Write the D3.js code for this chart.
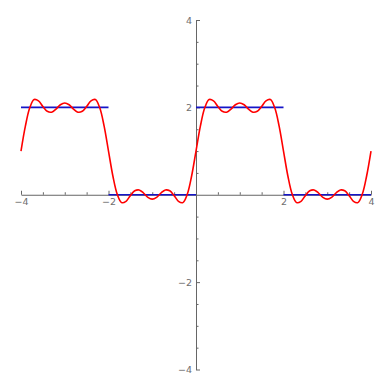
<!DOCTYPE html>
<html>
<head>
<meta charset="utf-8">
<script src="https://cdn.jsdelivr.net/npm/d3@7"></script>
<style>
  body { margin: 0; background: #fff; }
  .tick text { font-family: "DejaVu Sans", sans-serif; font-size: 9.5px; fill: #6e6e6e; }
</style>
</head>
<body>
<svg id="chart" width="389" height="389"></svg>
<script>
// sample positions and the red partial-sum curve
const xs = [-4.0,-3.9,-3.8,-3.7,-3.6,-3.5,-3.4,-3.3,-3.2,-3.1,-3.0,-2.9,-2.8,-2.7,-2.6,-2.5,-2.4,-2.3,-2.2,-2.1,
            -2.0,-1.9,-1.8,-1.7,-1.6,-1.5,-1.4,-1.3,-1.2,-1.1,-1.0,-0.9,-0.8,-0.7,-0.6,-0.5,-0.4,-0.3,-0.2,-0.1,
            0.0,0.1,0.2,0.3,0.4,0.5,0.6,0.7,0.8,0.9,1.0,1.1,1.2,1.3,1.4,1.5,1.6,1.7,1.8,1.9,
            2.0,2.1,2.2,2.3,2.4,2.5,2.6,2.7,2.8,2.9,3.0,3.1,3.2,3.3,3.4,3.5,3.6,3.7,3.8,3.9,4.0];
const ys = [1.00,1.57,1.99,2.18,2.15,2.02,1.91,1.89,1.96,2.06,2.10,2.06,1.96,1.89,1.91,2.02,2.15,2.18,1.99,1.57,
            1.00,0.43,0.01,-0.18,-0.15,-0.02,0.09,0.11,0.04,-0.06,-0.10,-0.06,0.04,0.11,0.09,-0.02,-0.15,-0.18,0.01,0.43,
            1.00,1.57,1.99,2.18,2.15,2.02,1.91,1.89,1.96,2.06,2.10,2.06,1.96,1.89,1.91,2.02,2.15,2.18,1.99,1.57,
            1.00,0.43,0.01,-0.18,-0.15,-0.02,0.09,0.11,0.04,-0.06,-0.10,-0.06,0.04,0.11,0.09,-0.02,-0.15,-0.18,0.01,0.43,1.00];

// blue square wave pieces
const stepStarts = [-4, -2, 0, 2];
const stepEnds = [-2, 0, 2, 4];
const stepLevels = [2, 0, 2, 0];

const xTicks = [-4, -2, 2, 4];
const yTicks = [-4, -2, 2, 4];
const minorTicks = [-3.5, -3, -2.5, -1.5, -1, -0.5, 0.5, 1, 1.5, 2.5, 3, 3.5];

const svg = d3.select("#chart");

const x = d3.scaleLinear().domain([-4, 4]).range([21, 371]);
const y = d3.scaleLinear().domain([-4, 4]).range([369.5, 20]);

const axisColor = "#666";
const fmt = d => (d < 0 ? "\u2212" : "") + Math.abs(d);

// x axis (ticks point up, labels below)
const gx = svg.append("g").attr("transform", `translate(0,${y(0)})`);
gx.call(d3.axisBottom(x).tickValues(xTicks).tickFormat(fmt).tickSizeInner(-4).tickSizeOuter(0).tickPadding(4));
gx.append("g").call(d3.axisBottom(x).tickValues(minorTicks).tickFormat("").tickSizeInner(-2.5).tickSizeOuter(0))
  .select(".domain").remove();

// y axis (ticks point right, labels left)
const gy = svg.append("g").attr("transform", `translate(${x(0)},0)`);
gy.call(d3.axisLeft(y).tickValues(yTicks).tickFormat(fmt).tickSizeInner(-4).tickSizeOuter(0).tickPadding(4));
gy.append("g").call(d3.axisLeft(y).tickValues(minorTicks).tickFormat("").tickSizeInner(-2.5).tickSizeOuter(0))
  .select(".domain").remove();

svg.selectAll(".domain, .tick line").attr("stroke", axisColor).attr("stroke-width", 1);

// blue target function
svg.append("g").selectAll("line")
  .data(stepStarts)
  .enter().append("line")
  .attr("x1", d => x(d))
  .attr("x2", (d, i) => x(stepEnds[i]))
  .attr("y1", (d, i) => y(stepLevels[i]))
  .attr("y2", (d, i) => y(stepLevels[i]))
  .attr("stroke", "#1515c8")
  .attr("stroke-width", 1.6);

// red approximation
const line = d3.line()
  .x(d => x(d[0]))
  .y(d => y(d[1]))
  .curve(d3.curveCatmullRom.alpha(0.5));

svg.append("path")
  .datum(xs.map((v, i) => [v, ys[i]]))
  .attr("d", line)
  .attr("fill", "none")
  .attr("stroke", "#f00")
  .attr("stroke-width", 1.6);
</script>
</body>
</html>
